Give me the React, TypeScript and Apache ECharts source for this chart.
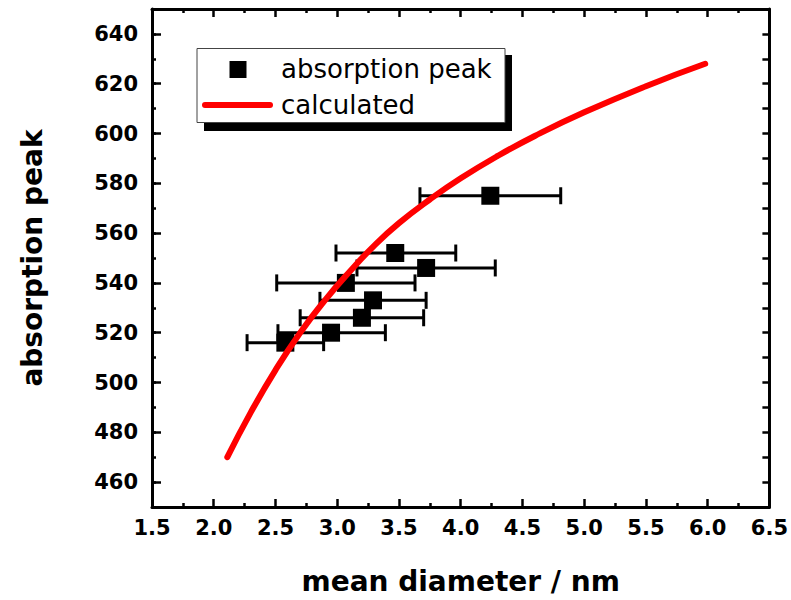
import React, { useEffect, useRef } from "react";
import * as echarts from "echarts";

// ---- data ----
const diameter = [2.58, 2.95, 3.2, 3.29, 3.07, 3.72, 3.47, 4.24];
const peak = [516, 520, 526, 533, 540, 546, 552, 575];
const errMinus = [0.31, 0.43, 0.5, 0.43, 0.56, 0.56, 0.48, 0.57];
const errPlus = [0.31, 0.44, 0.5, 0.43, 0.56, 0.56, 0.49, 0.57];

const calcDiameter = [2.11, 2.3, 2.5, 2.7, 2.9, 3.1, 3.3, 3.5, 3.75, 4.0, 4.3, 4.6, 5.0, 5.5, 5.98];
const calcPeak = [470, 488, 505, 520, 533, 544.5, 555, 564, 573.5, 582, 591, 599, 608.5, 619, 628];

const yTickLabels = [460, 480, 500, 520, 540, 560, 580, 600, 620, 640];

const FONT = "DejaVu Sans";

export default function App() {
  const ref = useRef<HTMLDivElement>(null);
  useEffect(() => {
    if (!ref.current) return;
    const chart = echarts.init(ref.current, undefined, { renderer: "svg" });
    const points = diameter.map((d, i) => [d, peak[i], d - errMinus[i], d + errPlus[i]]);
    const curve = calcDiameter.map((d, i) => [d, calcPeak[i]]);
    const axisLine = { show: true, lineStyle: { color: "#000", width: 3 } };
    const labelStyle = { color: "#000", fontFamily: FONT, fontWeight: "bold" as const, fontSize: 21 };
    chart.setOption({
      animation: false,
      backgroundColor: "#fff",
      grid: { left: 152, right: 20, top: 9, bottom: 89 },
      xAxis: [
        {
          type: "value",
          min: 1.5,
          max: 6.5,
          interval: 0.5,
          position: "bottom",
          axisLine,
          axisTick: { inside: true, length: 8, lineStyle: { color: "#000", width: 2.5 } },
          minorTick: { show: true, splitNumber: 2, length: 4, lineStyle: { color: "#000", width: 2.5 } },
          splitLine: { show: false },
          axisLabel: { ...labelStyle, margin: 10, formatter: (v: number) => v.toFixed(1) },
          name: "mean diameter / nm",
          nameLocation: "middle",
          nameGap: 60,
          nameTextStyle: { color: "#000", fontFamily: FONT, fontWeight: "bold", fontSize: 28 },
        },
        {
          type: "value",
          min: 1.5,
          max: 6.5,
          interval: 0.5,
          position: "top",
          axisLine,
          axisTick: { inside: true, length: 8, lineStyle: { color: "#000", width: 2.5 } },
          minorTick: { show: true, splitNumber: 2, length: 4, lineStyle: { color: "#000", width: 2.5 } },
          splitLine: { show: false },
          axisLabel: { show: false },
        },
      ],
      yAxis: [
        {
          type: "value",
          min: 450,
          max: 650,
          position: "left",
          axisLine,
          axisTick: { inside: true, length: 9, customValues: yTickLabels, lineStyle: { color: "#000", width: 2.5 } },
          splitLine: { show: false },
          axisLabel: { ...labelStyle, margin: 14, customValues: yTickLabels },
          name: "absorption peak",
          nameLocation: "middle",
          nameGap: 106,
          nameTextStyle: { color: "#000", fontFamily: FONT, fontWeight: "bold", fontSize: 28 },
        },
        {
          type: "value",
          min: 450,
          max: 650,
          interval: 10,
          position: "left",
          axisLine: { show: false },
          axisTick: { inside: true, length: 4, lineStyle: { color: "#000", width: 2.5 } },
          splitLine: { show: false },
          axisLabel: { show: false },
        },
        {
          type: "value",
          min: 450,
          max: 650,
          interval: 10,
          position: "right",
          axisLine,
          axisTick: { inside: true, length: 7, lineStyle: { color: "#000", width: 2.5 } },
          splitLine: { show: false },
          axisLabel: { show: false },
        },
      ],
      series: [
        {
          type: "custom",
          name: "error",
          xAxisIndex: 0,
          yAxisIndex: 0,
          data: points,
          encode: { x: [0, 2, 3], y: 1 },
          z: 2,
          renderItem: (params: any, api: any) => {
            const y = api.value(1);
            const lo = api.coord([api.value(2), y]);
            const hi = api.coord([api.value(3), y]);
            const h = 8.5;
            const style = { stroke: "#000", lineWidth: 3 };
            return {
              type: "group",
              children: [
                { type: "line", shape: { x1: lo[0], y1: lo[1], x2: hi[0], y2: hi[1] }, style },
                { type: "line", shape: { x1: lo[0], y1: lo[1] - h, x2: lo[0], y2: lo[1] + h }, style },
                { type: "line", shape: { x1: hi[0], y1: hi[1] - h, x2: hi[0], y2: hi[1] + h }, style },
              ],
            };
          },
        },
        {
          type: "scatter",
          name: "absorption peak",
          xAxisIndex: 0,
          yAxisIndex: 0,
          data: points.map((p) => [p[0], p[1]]),
          symbol: "rect",
          symbolSize: 18,
          itemStyle: { color: "#000", opacity: 1 },
          z: 3,
        },
        {
          type: "line",
          name: "calculated",
          xAxisIndex: 0,
          yAxisIndex: 0,
          data: curve,
          smooth: true,
          showSymbol: false,
          lineStyle: { color: "#ff0000", width: 6, cap: "round", join: "round" },
          z: 4,
        },
      ],
      graphic: [
        { type: "rect", shape: { x: 204, y: 55, width: 308, height: 76 }, style: { fill: "#000" }, z: 10 },
        {
          type: "rect",
          shape: { x: 197, y: 48.5, width: 308, height: 74 },
          style: { fill: "#fff", stroke: "#444", lineWidth: 1 },
          z: 11,
        },
        { type: "rect", shape: { x: 229.5, y: 61, width: 17, height: 17 }, style: { fill: "#000" }, z: 12 },
        {
          type: "text",
          x: 281,
          y: 69,
          style: { text: "absorption peak", fill: "#000", font: `26px '${FONT}'`, verticalAlign: "middle" },
          z: 12,
        },
        {
          type: "line",
          shape: { x1: 205, y1: 105, x2: 270, y2: 105 },
          style: { stroke: "#ff0000", lineWidth: 6, lineCap: "round" },
          z: 12,
        },
        {
          type: "text",
          x: 281,
          y: 105,
          style: { text: "calculated", fill: "#000", font: `26px '${FONT}'`, verticalAlign: "middle" },
          z: 12,
        },
      ],
    });
    return () => chart.dispose();
  }, []);
  return <div ref={ref} style={{ position: "fixed", left: 0, top: 0, width: 791, height: 600 }} />;
}
